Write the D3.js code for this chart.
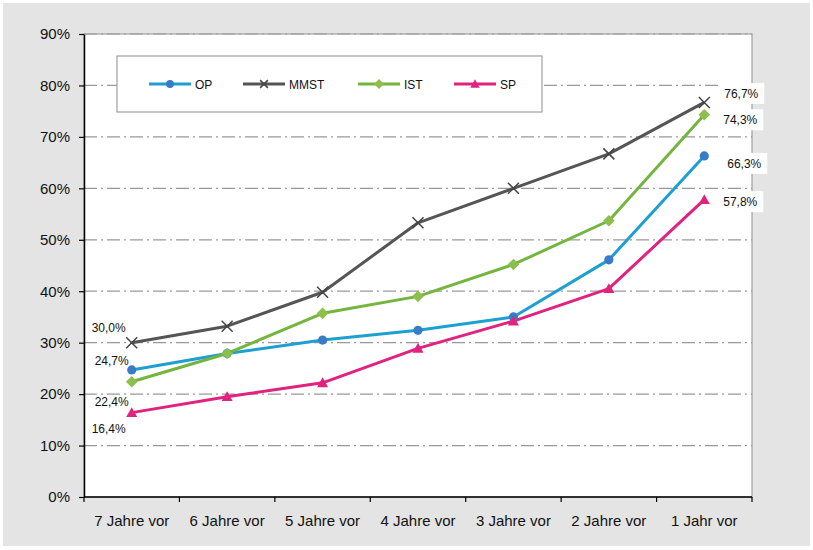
<!DOCTYPE html>
<html>
<head>
<meta charset="utf-8">
<script src="https://cdn.jsdelivr.net/npm/d3@7"></script>
<style>
  html, body { margin: 0; padding: 0; background: #ffffff; }
  svg { display: block; font-family: "Liberation Sans", Arial, sans-serif; }
</style>
</head>
<body>
<svg id="chart" width="813" height="550"></svg>
<script>
// Categories along the x axis
const categories = ["7 Jahre vor", "6 Jahre vor", "5 Jahre vor", "4 Jahre vor", "3 Jahre vor", "2 Jahre vor", "1 Jahr vor"];

// Series values (percent)
const opValues   = [24.7, 27.9, 30.5, 32.4, 35.0, 46.1, 66.3];
const mmstValues = [30.0, 33.2, 39.8, 53.3, 60.0, 66.7, 76.7];
const istValues  = [22.4, 27.9, 35.7, 39.0, 45.2, 53.7, 74.3];
const spValues   = [16.4, 19.5, 22.2, 28.9, 34.2, 40.5, 57.8];

const seriesNames = ["OP", "MMST", "IST", "SP"];
const yTicks = [0, 10, 20, 30, 40, 50, 60, 70, 80, 90];

const fmt = v => v.toFixed(1).replace(".", ",") + "%";

const series = [
  { name: "OP",   values: opValues,   line: "#1d9fd1", mark: "#3a7bc8", shape: "circle" },
  { name: "MMST", values: mmstValues, line: "#555555", mark: "#444444", shape: "cross" },
  { name: "IST",  values: istValues,  line: "#74b53f", mark: "#8dbf4c", shape: "diamond" },
  { name: "SP",   values: spValues,   line: "#e0237f", mark: "#e0237f", shape: "triangle" }
];

const svg = d3.select("#chart");

// Grey chart frame
svg.append("rect").attr("x", 3).attr("y", 3).attr("width", 807).attr("height", 543).attr("fill", "#e4e4e4");

const plot = { left: 84, right: 752, top: 34, bottom: 497 };

const x = d3.scaleBand().domain(categories).range([plot.left, plot.right]);
const y = d3.scaleLinear().domain([0, 90]).range([plot.bottom, plot.top]);
const cx = c => x(c) + x.bandwidth() / 2;

// Plot area
svg.append("rect")
  .attr("x", plot.left).attr("y", plot.top)
  .attr("width", plot.right - plot.left).attr("height", plot.bottom - plot.top)
  .attr("fill", "#ffffff").attr("stroke", "#a0a0a0").attr("stroke-width", 1.2);

// Dash-dot gridlines
svg.append("g").selectAll("line")
  .data(yTicks.filter(t => t > 0))
  .join("line")
  .attr("x1", plot.left).attr("x2", plot.right)
  .attr("y1", d => y(d)).attr("y2", d => y(d))
  .attr("stroke", "#999999").attr("stroke-width", 1.2)
  .attr("stroke-dasharray", "13,4,2,4");

// Y axis
const yAxis = d3.axisLeft(y).tickValues(yTicks).tickFormat(d => d + "%").tickSize(5).tickSizeOuter(0);
const gy = svg.append("g").attr("transform", `translate(${plot.left},0)`).call(yAxis);
gy.select(".domain").attr("stroke", "#000").attr("stroke-width", 1.5);
gy.selectAll(".tick line").attr("stroke", "#000").attr("stroke-width", 1.2);
gy.selectAll(".tick text").attr("x", -14).attr("font-size", 15).attr("fill", "#111").attr("font-family", "Liberation Sans, Arial, sans-serif");

// X axis with tick marks on band boundaries
const gx = svg.append("g").attr("transform", `translate(0,${plot.bottom})`);
gx.append("line").attr("x1", plot.left).attr("x2", plot.right).attr("stroke", "#000").attr("stroke-width", 1.5);
const bounds = categories.map(c => x(c)).concat([plot.right]);
gx.selectAll("line.tk").data(bounds).join("line").attr("class", "tk")
  .attr("x1", d => d).attr("x2", d => d).attr("y1", 0).attr("y2", 5)
  .attr("stroke", "#000").attr("stroke-width", 1.2);
gx.selectAll("text").data(categories).join("text")
  .attr("x", d => cx(d)).attr("y", 29)
  .attr("text-anchor", "middle").attr("font-size", 15).attr("fill", "#111")
  .text(d => d);

// Marker drawing
function drawMarker(g, shape, color, px, py, scale = 1) {
  if (shape === "circle") {
    g.append("circle").attr("cx", px).attr("cy", py).attr("r", 4.6 * scale).attr("fill", color);
  } else if (shape === "diamond") {
    const s = 5.8 * scale;
    g.append("path").attr("d", `M${px},${py - s}L${px + s},${py}L${px},${py + s}L${px - s},${py}Z`).attr("fill", color);
  } else if (shape === "triangle") {
    const s = 5.5 * scale;
    g.append("path").attr("d", `M${px},${py - s}L${px + s},${py + s * 0.8}L${px - s},${py + s * 0.8}Z`).attr("fill", color);
  } else if (shape === "cross") {
    const s = 5.5 * scale;
    g.append("path").attr("d", `M${px - s},${py - s}L${px + s},${py + s}M${px - s},${py + s}L${px + s},${py - s}`)
      .attr("stroke", color).attr("stroke-width", 1.5).attr("fill", "none");
  }
}

const line = d3.line().x((d, i) => cx(categories[i])).y(d => y(d));

const gSeries = svg.append("g");
series.forEach(s => {
  gSeries.append("path").attr("d", line(s.values))
    .attr("fill", "none").attr("stroke", s.line).attr("stroke-width", 3).attr("stroke-linejoin", "round");
});
series.forEach(s => {
  s.values.forEach((v, i) => drawMarker(gSeries, s.shape, s.mark, cx(categories[i]), y(v)));
});

// Value labels at the first point
const firstOffsets = { OP: [-20, -5], MMST: [-23, -11], IST: [-20, 24], SP: [-23, 20] };
series.forEach(s => {
  const [dx, dy] = firstOffsets[s.name];
  svg.append("text")
    .attr("x", cx(categories[0]) + dx).attr("y", y(s.values[0]) + dy)
    .attr("text-anchor", "middle").attr("font-size", 12).attr("fill", "#111")
    .text(fmt(s.values[0]));
});

// Value labels at the last point, on white boxes
const lastOffsets = { OP: [40, 7.5], MMST: [37, -9], IST: [36, 5], SP: [36, 2] };
const last = categories.length - 1;
series.forEach(s => {
  const [dx, dy] = lastOffsets[s.name];
  const lx = cx(categories[last]) + dx, ly = y(s.values[last]) + dy;
  svg.append("rect").attr("x", lx - 23).attr("y", ly - 10.5).attr("width", 46).attr("height", 21).attr("fill", "#ffffff");
  svg.append("text")
    .attr("x", lx).attr("y", ly + 4.5)
    .attr("text-anchor", "middle").attr("font-size", 12).attr("fill", "#111")
    .text(fmt(s.values[last]));
});

// Legend
const legend = svg.append("g");
legend.append("rect").attr("x", 117).attr("y", 56).attr("width", 425).attr("height", 56)
  .attr("fill", "#ffffff").attr("stroke", "#a0a0a0").attr("stroke-width", 1.2);
const legendX = [149, 243, 358, 454];
series.forEach((s, i) => {
  const lx = legendX[i], ly = 84;
  legend.append("line").attr("x1", lx).attr("x2", lx + 42).attr("y1", ly).attr("y2", ly)
    .attr("stroke", s.line).attr("stroke-width", 3);
  drawMarker(legend, s.shape, s.mark, lx + 21, ly, s.shape === "cross" ? 0.7 : 0.85);
  legend.append("text").attr("x", lx + 46).attr("y", ly + 4.5)
    .attr("font-size", 12).attr("fill", "#111").text(seriesNames[i]);
});
</script>
</body>
</html>
